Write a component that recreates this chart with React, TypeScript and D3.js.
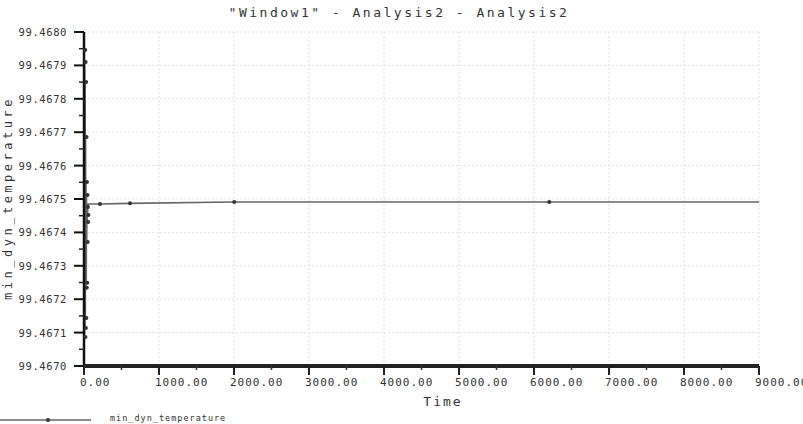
import React from "react";
import * as d3 from "d3";

const title = '"Window1" - Analysis2 - Analysis2';
const xLabel = "Time";
const yLabel = "min_dyn_temperature";
const seriesName = "min_dyn_temperature";

const xTicks = [0, 1000, 2000, 3000, 4000, 5000, 6000, 7000, 8000, 9000];
const yTicks = [99.467, 99.4671, 99.4672, 99.4673, 99.4674, 99.4675, 99.4676, 99.4677, 99.4678, 99.4679, 99.468];

const times = [0, 3, 6, 9, 12, 15, 18, 21, 24, 27, 30, 33, 36, 39, 42, 45, 55, 200, 600, 1990, 6190, 9000];
const values = [
  99.467512, 99.467946, 99.467087, 99.46791, 99.467114, 99.46785, 99.467144, 99.467686,
  99.467234, 99.467551, 99.467249, 99.467512, 99.467371, 99.467476, 99.467431, 99.467452,
  99.467485, 99.467485, 99.467487, 99.467491, 99.467491, 99.467491,
];
const markerIdx = [1, 2, 3, 4, 5, 6, 7, 8, 9, 10, 11, 12, 13, 14, 15, 17, 18, 19, 20];

const W = 803;
const H = 424;
const L = 84;
const R = 759;
const T = 32;
const B = 366;

export default function App() {
  const x = d3.scaleLinear().domain([0, 9000]).range([L, R]);
  const y = d3.scaleLinear().domain([99.467, 99.468]).range([B, T]);
  const pts = times.map((t, i) => [x(t), y(values[i])] as [number, number]);
  const line = d3.line()(pts) || "";
  const xMinor = xTicks.slice(0, -1).map((t) => t + 500);
  const yMinor = yTicks.slice(0, -1).map((v) => v + 0.00005);
  const font = "'DejaVu Sans Mono', monospace";
  const fmtY = d3.format(".4f");
  const fmtX = d3.format(".2f");
  return (
    <svg width={W} height={H} style={{ position: "absolute", left: 0, top: 0, background: "#fff" }}>
      <text x={399} y={17} textAnchor="middle" fontFamily={font} fontSize={13} letterSpacing={2.5} fill="#333">
        {title}
      </text>
      {xTicks.slice(1).map((t) => (
        <line key={"gx" + t} x1={x(t)} x2={x(t)} y1={T} y2={B} stroke="#e0e0e0" strokeWidth={1} strokeDasharray="2,2" />
      ))}
      {yTicks.map((v) => (
        <line key={"gy" + v} x1={L} x2={R} y1={y(v)} y2={y(v)} stroke="#e0e0e0" strokeWidth={1} strokeDasharray="2,2" />
      ))}
      <path d={line} fill="none" stroke="#666" strokeWidth={1.6} />
      {/* y axis */}
      <line x1={L} x2={L} y1={T} y2={B} stroke="#111" strokeWidth={2.5} />
      {yTicks.map((v) => (
        <line key={"ty" + v} x1={L - 10} x2={L} y1={y(v)} y2={y(v)} stroke="#111" strokeWidth={2} />
      ))}
      {yMinor.map((v) => (
        <line key={"tym" + v} x1={L - 5} x2={L} y1={y(v)} y2={y(v)} stroke="#222" strokeWidth={1.5} />
      ))}
      {yTicks.map((v) => (
        <text key={"ly" + v} x={67} y={y(v) + 4} textAnchor="end" fontFamily={font} fontSize={10.5} letterSpacing={0.6} fill="#333">
          {fmtY(v)}
        </text>
      ))}
      {/* x axis */}
      <line x1={L - 1} x2={R} y1={B} y2={B} stroke="#222" strokeWidth={4} />
      <line x1={R} x2={R} y1={B} y2={B + 9} stroke="#222" strokeWidth={2} />
      {xTicks.map((t) => (
        <line key={"tx" + t} x1={x(t)} x2={x(t)} y1={B} y2={B + 9} stroke="#222" strokeWidth={2} />
      ))}
      {xMinor.map((t) => (
        <line key={"txm" + t} x1={x(t)} x2={x(t)} y1={B} y2={B + 4} stroke="#333" strokeWidth={1.5} />
      ))}
      {markerIdx.map((i) => (
        <circle key={"m" + i} cx={pts[i][0] + 1} cy={pts[i][1]} r={2} fill="#333" />
      ))}
      {xTicks.map((t) => (
        <text key={"lx" + t} x={x(t) - 4} y={386} textAnchor="start" fontFamily={font} fontSize={11} letterSpacing={1} fill="#333">
          {fmtX(t)}
        </text>
      ))}
      <text x={443} y={406} textAnchor="middle" fontFamily={font} fontSize={13} letterSpacing={2} fill="#333">
        {xLabel}
      </text>
      <text
        transform="translate(12,198) rotate(-90)"
        textAnchor="middle"
        fontFamily={font}
        fontSize={12}
        letterSpacing={3.5}
        fill="#333"
      >
        {yLabel}
      </text>
      {/* legend */}
      <line x1={0} x2={91} y1={420} y2={420} stroke="#666" strokeWidth={1.5} />
      <circle cx={48} cy={420} r={2} fill="#333" />
      <text x={110} y={421} fontFamily={font} fontSize={8.5} letterSpacing={1} fill="#333">
        {seriesName}
      </text>
    </svg>
  );
}
